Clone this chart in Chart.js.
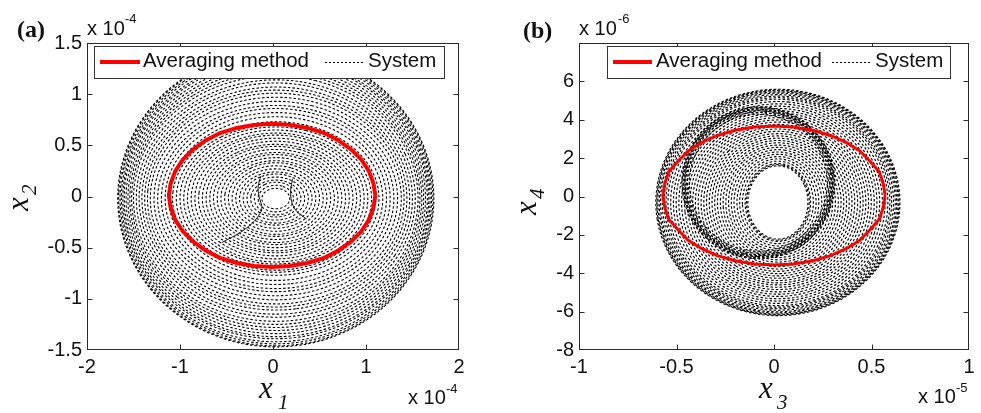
<!DOCTYPE html>
<html><head><meta charset="utf-8">
<script src="https://cdn.jsdelivr.net/npm/chart.js@4.4.0/dist/chart.umd.min.js"></script>
<style>
html,body{margin:0;padding:0;background:#fff;}
#wrap{position:relative;width:981px;height:413px;overflow:hidden;}
.panel{position:absolute;top:0;height:413px;}
.t{position:absolute;line-height:1;white-space:nowrap;color:#111;font-family:"Liberation Sans",Arial,sans-serif;}
.serif{font-family:"Liberation Serif","Times New Roman",serif;}
.it{font-style:italic;}
.b{font-weight:bold;}
.leg{position:absolute;top:46px;height:31px;border:1px solid #333;background:#fff;}
.redline{position:absolute;height:4px;background:#f00;}
.dots{position:absolute;height:1px;background:repeating-linear-gradient(to right,#000 0 2px,transparent 2px 4px);}
.rot{position:absolute;transform:rotate(-90deg);transform-origin:0 0;width:60px;height:40px;}
</style></head><body>
<div id="wrap">
  <div class="panel" style="left:0;width:490px"><canvas id="ca" width="490" height="413"></canvas></div>
  <div class="panel" style="left:490px;width:491px"><canvas id="cb" width="491" height="413"></canvas></div>

  <!-- panel labels -->
  <div class="t serif b" style="left:17px;top:17px;font-size:24px">(a)</div>
  <div class="t serif b" style="left:523px;top:18px;font-size:24px">(b)</div>

  <!-- exponents -->
  <div class="t" style="left:87px;top:18px;font-size:20px">x 10</div>
  <div class="t" style="left:125px;top:12px;font-size:13px">-4</div>
  <div class="t" style="left:408px;top:387px;font-size:20px">x 10</div>
  <div class="t" style="left:446px;top:382px;font-size:13px">-4</div>
  <div class="t" style="left:579px;top:18px;font-size:20px">x 10</div>
  <div class="t" style="left:618px;top:12px;font-size:13px">-6</div>
  <div class="t" style="left:918px;top:386px;font-size:20px">x 10</div>
  <div class="t" style="left:956px;top:381px;font-size:13px">-5</div>

  <!-- axis titles -->
  <div class="t serif it" style="left:259px;top:372px;font-size:31px">x</div>
  <div class="t serif it" style="left:278px;top:392px;font-size:21px">1</div>
  <div class="t serif it" style="left:759px;top:372px;font-size:31px">x</div>
  <div class="t serif it" style="left:777px;top:392px;font-size:21px">3</div>
  <div class="rot" style="left:2px;top:211px">
    <div class="t serif it" style="left:0;top:0;font-size:31px">x</div>
    <div class="t serif it" style="left:16px;top:17px;font-size:21px">2</div>
  </div>
  <div class="rot" style="left:510px;top:215px">
    <div class="t serif it" style="left:0;top:0;font-size:31px">x</div>
    <div class="t serif it" style="left:16px;top:17px;font-size:21px">4</div>
  </div>

  <!-- legends -->
  <div class="leg" style="left:94px;width:349px"></div>
  <div class="redline" style="left:100px;top:60px;width:40px"></div>
  <div class="t" style="left:143px;top:50px;font-size:20.5px">Averaging method</div>
  <div class="dots" style="left:325px;top:62px;width:38px"></div>
  <div class="t" style="left:368px;top:50px;font-size:20.5px">System</div>

  <div class="leg" style="left:607px;width:342px"></div>
  <div class="redline" style="left:613px;top:60px;width:39px"></div>
  <div class="t" style="left:656px;top:50px;font-size:20.5px">Averaging method</div>
  <div class="dots" style="left:832px;top:62px;width:40px"></div>
  <div class="t" style="left:875px;top:50px;font-size:20.5px">System</div>
</div>
<script>
// ---------- Panel (a): x1 (×1e-4) vs x2 (×1e-4) ----------
const aXTicks = [-2, -1, 0, 1, 2];
const aYTicks = [-1.5, -1, -0.5, 0, 0.5, 1, 1.5];
// averaging method closed orbit
const aAvgX = [1.10,1.08,1.03,0.95,0.84,0.70,0.55,0.37,0.18,-0.01,-0.20,-0.39,-0.57,-0.72,-0.86,-0.97,-1.05,-1.10,-1.12,-1.10,-1.05,-0.97,-0.86,-0.72,-0.57,-0.39,-0.20,-0.01,0.18,0.37,0.55,0.70,0.84,0.95,1.03,1.08,1.10];
const aAvgY = [0.01,0.13,0.25,0.36,0.46,0.55,0.62,0.67,0.70,0.71,0.70,0.67,0.62,0.55,0.46,0.36,0.25,0.13,0.01,-0.11,-0.23,-0.34,-0.44,-0.53,-0.60,-0.65,-0.68,-0.69,-0.68,-0.65,-0.60,-0.53,-0.44,-0.34,-0.23,-0.11,0.01];
// system trajectory loops: half-widths / half-heights
const aLoopRx = [0.15,0.19,0.23,0.27,0.31,0.35,0.39,0.43,0.47,0.51,0.55,0.59,0.63,0.67,0.71,0.75,0.79,0.83,0.87,0.91,0.95,0.99,1.03,1.07,1.11,
                 1.15,1.19,1.23,1.27,1.31,1.35,1.38,1.41,1.44,1.47,1.50,1.53,1.55,1.57,1.59,1.61,1.63,1.645,1.66,1.675,1.69,1.70];
const aLoopRy = [0.10,0.13,0.16,0.18,0.21,0.24,0.26,0.29,0.32,0.35,0.37,0.40,0.43,0.45,0.48,0.51,0.53,0.56,0.59,0.62,0.64,0.67,0.70,0.72,0.75,
                 0.80,0.84,0.88,0.91,0.95,0.99,1.03,1.06,1.09,1.13,1.16,1.20,1.23,1.26,1.29,1.32,1.35,1.37,1.40,1.42,1.44,1.45];
const aLoopCx = [0.03];
const aLoopCy = [-0.02];
// thin crossing strokes in the centre
const aStrokeLX = [-0.13,-0.16,-0.15,-0.12,-0.20,-0.35,-0.55];
const aStrokeLY = [0.20,0.10,0.00,-0.12,-0.24,-0.35,-0.45];
const aStrokeRX = [0.21,0.19,0.20,0.25,0.36];
const aStrokeRY = [0.17,0.06,-0.05,-0.14,-0.22];

// ---------- Panel (b): x3 (×1e-5) vs x4 (×1e-6) ----------
const bXTicks = [-1, -0.5, 0, 0.5, 1];
const bYTicks = [-8, -6, -4, -2, 0, 2, 4, 6, 8];
const bAvgX = [0.57,0.56,0.54,0.49,0.44,0.37,0.29,0.20,0.10,0,-0.10,-0.20,-0.29,-0.37,-0.44,-0.49,-0.54,-0.56,-0.57,-0.56,-0.54,-0.49,-0.44,-0.37,-0.29,-0.20,-0.10,0,0.10,0.20,0.29,0.37,0.44,0.49,0.54,0.56,0.57];
const bAvgY = [0.05,0.68,1.29,1.86,2.38,2.82,3.18,3.45,3.62,3.67,3.62,3.45,3.18,2.82,2.38,1.86,1.29,0.68,0.05,-0.58,-1.19,-1.76,-2.28,-2.72,-3.08,-3.35,-3.52,-3.57,-3.52,-3.35,-3.08,-2.72,-2.28,-1.76,-1.19,-0.58,0.05];
const bLoopRx = [0.154,0.161,0.168,0.182,0.196,0.210,0.225,0.239,0.253,0.267,0.281,0.295,0.310,0.324,0.338,0.352,0.366,0.380,0.394,0.409,
                 0.423,0.437,0.451,0.465,0.479,0.494,0.508,0.522,0.536,0.550,0.564,0.574,0.583,0.593,0.602,0.609,0.616,0.621,0.626];
const bLoopRy = [1.91,1.97,2.03,2.15,2.27,2.39,2.51,2.63,2.75,2.87,2.99,3.11,3.23,3.35,3.47,3.59,3.71,3.83,3.95,4.07,
                 4.19,4.30,4.42,4.54,4.66,4.78,4.90,5.02,5.14,5.26,5.38,5.46,5.54,5.62,5.70,5.76,5.82,5.86,5.90];
const bLoopCx = [0.02];
const bLoopCy = [-0.31];
// dark band of the second family of loops
const bBandRx = [0.354,0.364,0.372,0.377,0.382,0.387,0.392];
const bBandRy = [3.57,3.67,3.75,3.80,3.85,3.91,3.96];
const bBandCx = [-0.08];
const bBandCy = [0.72];

// ---------- helpers ----------
function zipXY(xs, ys){ return xs.map((x,i)=>({x:x, y:ys[i]})); }
function loop(cx, cy, rx, ry, phase){
  const pts=[]; const n=140;
  for(let i=0;i<=n;i++){ const t=phase+2*Math.PI*i/n; pts.push({x:cx+rx*Math.cos(t), y:cy+ry*Math.sin(t)}); }
  return pts;
}
function systemSets(rxs, rys, cx, cy, ph0, w){
  return rxs.map((rx,i)=>({
    data: loop(cx, cy, rx, rys[i], ph0 + i*0.9),
    showLine:true, pointRadius:0, borderColor:'#000', borderWidth:w,
    borderDash:[2.5,2], tension:0, order:2
  }));
}
function avgSet(xs, ys, w){
  return {data: zipXY(xs, ys), showLine:true, pointRadius:0, borderColor:'#ff0000', borderWidth:w, tension:0, order:0};
}
function strokeSet(xs, ys){
  return {data: zipXY(xs, ys), showLine:true, pointRadius:0, borderColor:'#111', borderWidth:1, tension:0.3, order:1};
}

const boxPlugin = {
  id:'box',
  afterDraw(chart){
    const {ctx, chartArea:a} = chart; const xs = chart.scales.x, ys = chart.scales.y;
    const L=Math.round(a.left)+0.5, R=Math.round(a.right)-0.5, T=Math.round(a.top)+0.5, B=Math.round(a.bottom)-0.5;
    ctx.save(); ctx.strokeStyle='#2a2a2a'; ctx.lineWidth=1; ctx.beginPath();
    xs.ticks.forEach(t=>{ const p=Math.round(xs.getPixelForValue(t.value))+0.5; if(p<L+2||p>R-2) return;
      ctx.moveTo(p,B); ctx.lineTo(p,B-5); ctx.moveTo(p,T); ctx.lineTo(p,T+5); });
    ys.ticks.forEach(t=>{ const p=Math.round(ys.getPixelForValue(t.value))+0.5; if(p<T+2||p>B-2) return;
      ctx.moveTo(L,p); ctx.lineTo(L+5,p); ctx.moveTo(R,p); ctx.lineTo(R-5,p); });
    ctx.stroke();
    ctx.strokeRect(L, T, R-L, B-T);
    ctx.restore();
  }
};

const tickFont = {family:'"Liberation Sans", Arial, sans-serif', size:20};
function makeChart(id, cfg){
  return new Chart(document.getElementById(id), {
    type:'scatter',
    data:{datasets:cfg.datasets},
    options:{
      responsive:false, animation:false, events:[],
      layout:{padding:{left:0, top:43, right:cfg.right, bottom:0}},
      plugins:{legend:{display:false}, tooltip:{enabled:false}},
      scales:{
        x:{type:'linear', min:cfg.xTicks[0], max:cfg.xTicks[cfg.xTicks.length-1],
           afterBuildTicks:s=>{ s.ticks = cfg.xTicks.map(v=>({value:v})); },
           grid:{display:false, drawTicks:false}, border:{display:false},
           ticks:{padding:5, font:tickFont, color:'#111', maxRotation:0, autoSkip:false, callback:v=>String(v)},
           afterFit:s=>{ s.height = 63; }},
        y:{type:'linear', min:cfg.yTicks[0], max:cfg.yTicks[cfg.yTicks.length-1],
           afterBuildTicks:s=>{ s.ticks = cfg.yTicks.map(v=>({value:v})); },
           grid:{display:false, drawTicks:false}, border:{display:false},
           ticks:{padding:5, font:tickFont, color:'#111', autoSkip:false, callback:v=>(cfg.hideTop && v===cfg.yTicks[cfg.yTicks.length-1]) ? '' : String(v)},
           afterFit:s=>{ s.width = cfg.left; }}
      }
    },
    plugins:[boxPlugin]
  });
}

makeChart('ca', {
  xTicks:aXTicks, yTicks:aYTicks, left:87, right:31, hideTop:false,
  datasets:[avgSet(aAvgX, aAvgY, 4), strokeSet(aStrokeLX, aStrokeLY), strokeSet(aStrokeRX, aStrokeRY)]
    .concat(systemSets(aLoopRx, aLoopRy, aLoopCx[0], aLoopCy[0], 0.3, 1.1))
});
makeChart('cb', {
  xTicks:bXTicks, yTicks:bYTicks, left:89, right:12, hideTop:true,
  datasets:[avgSet(bAvgX, bAvgY, 3)]
    .concat(systemSets(bLoopRx, bLoopRy, bLoopCx[0], bLoopCy[0], 0.5, 1.15))
    .concat(systemSets(bBandRx, bBandRy, bBandCx[0], bBandCy[0], 1.1, 1.15))
});
</script>
</body></html>
